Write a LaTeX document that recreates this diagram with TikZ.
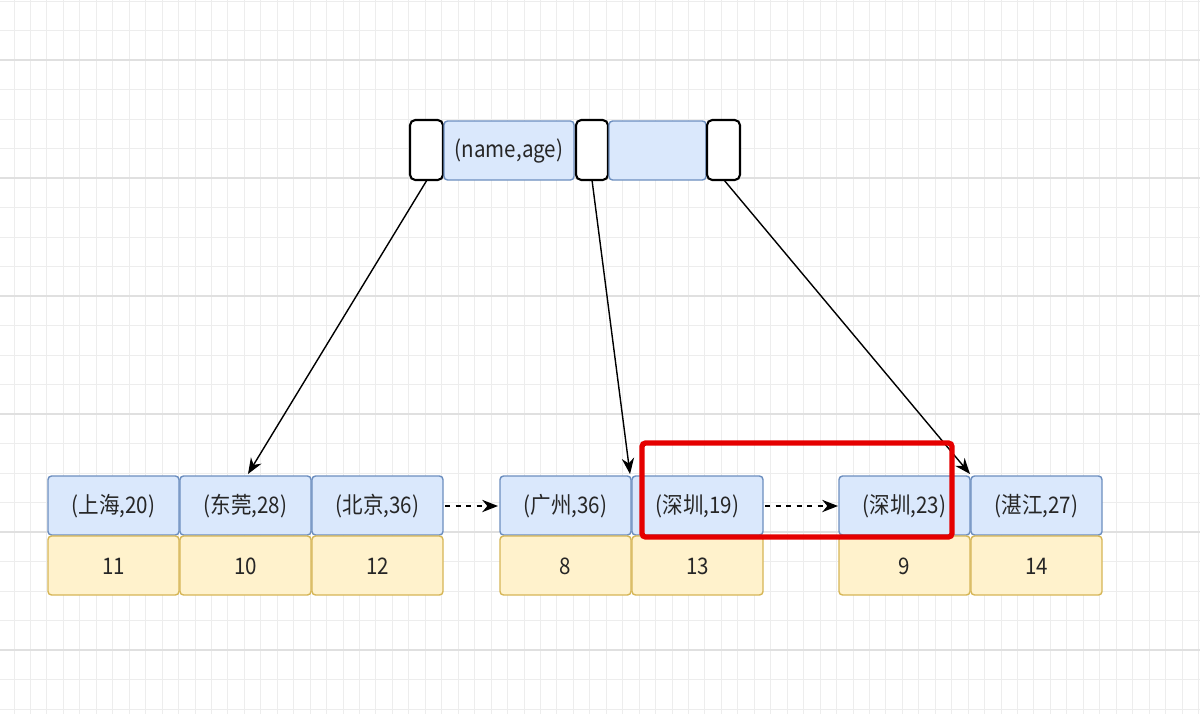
\documentclass[tikz,border=0pt]{standalone}
\usepackage{fontspec}
\setmainfont{Noto Sans CJK SC}
\usetikzlibrary{arrows.meta}
\definecolor{kf}{HTML}{DAE8FC}\definecolor{kd}{HTML}{6C8EBF}
\definecolor{vf}{HTML}{FFF2CC}\definecolor{vd}{HTML}{D6B656}
\begin{document}
\begin{tikzpicture}[x=0.02cm,y=-0.02cm,
 ptr/.style={draw=black,line width=1.2pt,fill=white,rounded corners=3pt},
 key/.style={draw=kd,fill=kf,line width=0.8pt,rounded corners=2pt},
 val/.style={draw=vd,fill=vf,line width=0.8pt,rounded corners=2pt},
 lbl/.style={font=\fontsize{13}{15}\selectfont,text=black!85,xscale=0.9},
 arr/.style={-{Stealth[length=9pt,width=7pt]},line width=0.8pt},
 dot/.style={-{Stealth[length=9pt,width=7pt]},line width=1pt,dash pattern=on 3pt off 3pt}]
\useasboundingbox (0,0) rectangle (1200,714);
\fill[white] (0,0) rectangle (1200,714);
\foreach \i in {0,...,72} {\draw[black!7,line width=0.5pt] ({14+16.45*\i},0) -- ({14+16.45*\i},714);}
\foreach \i in {0,...,24} {\draw[black!7,line width=0.5pt] (0,{1+29.5*\i}) -- (1200,{1+29.5*\i});}
\foreach \i in {0,...,6} {\draw[black!12,line width=0.6pt] (0,{60+118*\i}) -- (1200,{60+118*\i});}
% top node
\draw[ptr] (410,120) rectangle (443,180);
\coordinate (p1) at (427,180);
\draw[key] (444,121) rectangle (574,180);
\node[lbl] (k0) at (509,151) {(name,age)};
\draw[ptr] (576,120) rectangle (608,180);
\coordinate (p2) at (592,180);
\draw[key] (609,121) rectangle (706,180);
\draw[ptr] (707,120) rectangle (740,180);
\coordinate (p3) at (724,180);
% leaves
\foreach \x/\k/\v [count=\n] in {48/{(上海,20)}/11,180/{(东莞,28)}/10,312/{(北京,36)}/12,500/{(广州,36)}/8,632/{(深圳,19)}/13,839/{(深圳,23)}/9,971/{(湛江,27)}/14}{
 \draw[key] (\x,476) rectangle ++(131,59);
 \node[lbl] (k\n) at (\x+65.5,506) {\k};
 \draw[val] (\x,536) rectangle ++(131,59);
 \node[lbl] (v\n) at (\x+65.5,566) {\v};
}
\coordinate (t1) at (248,474);
\coordinate (t2) at (630,474);
\coordinate (t3) at (970,474);
\draw[arr] (p1) -- (t1);
\draw[arr] (p2) -- (t2);
\draw[arr] (p3) -- (t3);
\coordinate (d1s) at (445,506); \coordinate (d1e) at (498,506);
\coordinate (d2s) at (765,506); \coordinate (d2e) at (838,506);
\draw[dot] (d1s) -- (d1e);
\draw[dot] (d2s) -- (d2e);
\draw[red!90!black,line width=3pt,rounded corners=2pt] (642,443) rectangle (952,537);
\end{tikzpicture}
\end{document}
